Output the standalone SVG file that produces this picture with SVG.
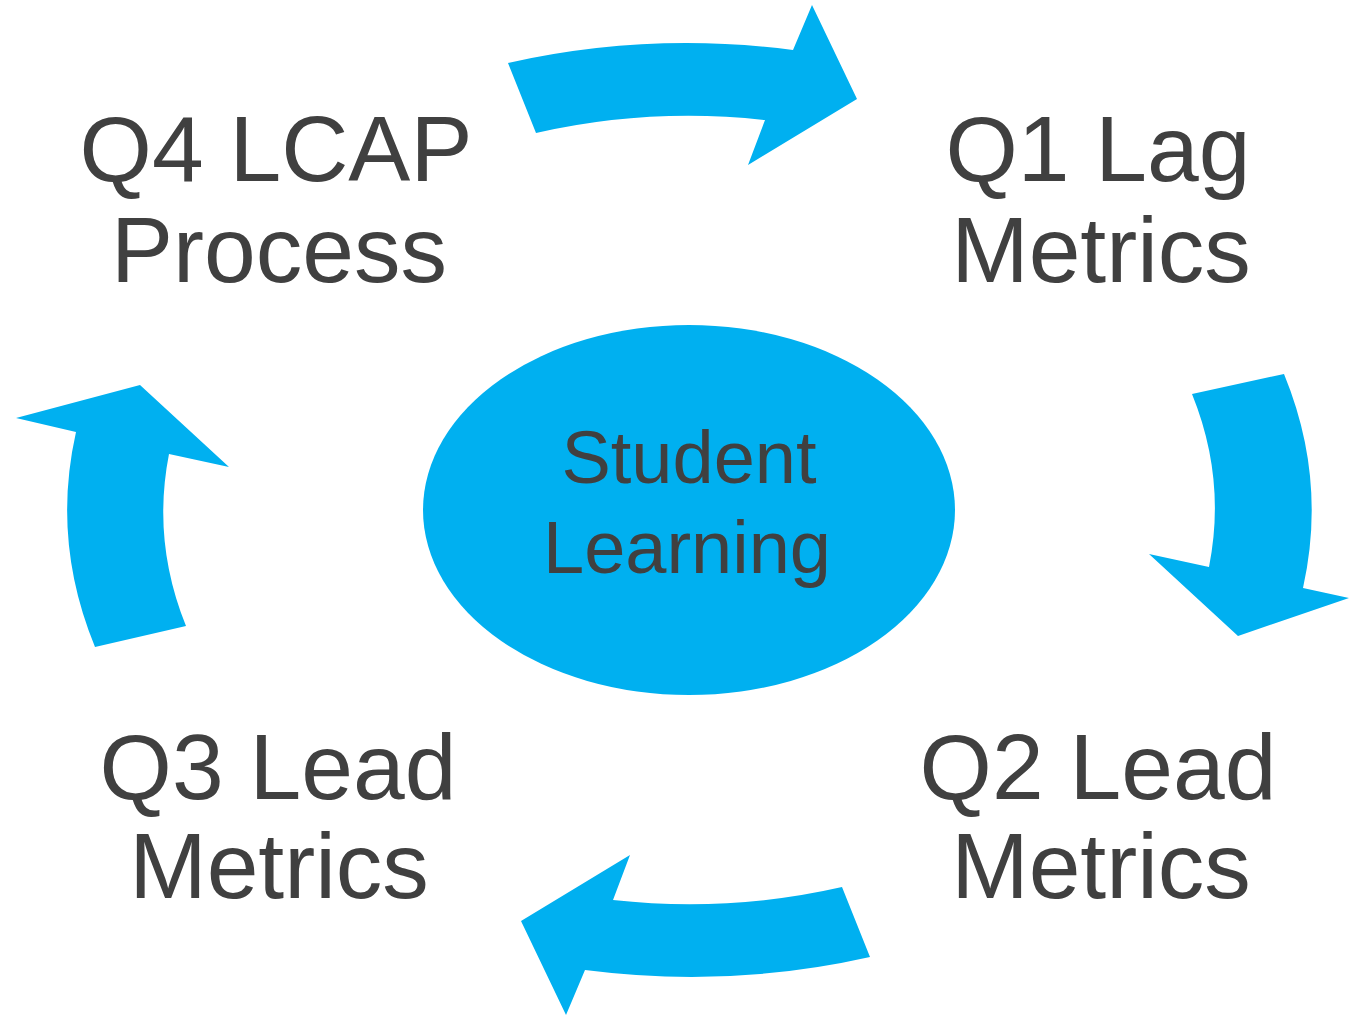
<svg xmlns="http://www.w3.org/2000/svg" width="1349" height="1015" viewBox="0 0 1349 1015">
<style>
.lbl{font-family:"Liberation Sans",Arial,sans-serif;font-size:93px;fill:#404040;text-anchor:middle}
.ctr{font-family:"Liberation Sans",Arial,sans-serif;font-size:74px;fill:#404040;text-anchor:middle}
.arr{fill:#00B0F0}
</style>
<rect width="1349" height="1015" fill="#ffffff"/>
<g id="connectors">
<path id="arrow-top" class="arr" d="M508,63 L536,133 A525 394 0 0 1 765,120 L748,165 L857,99 L812,5 L793,50 A622 466 0 0 0 508,63 Z"/>
<path id="arrow-right" class="arr" d="M1192,394 L1284,374 A622 466 0 0 1 1303,588 L1349,598 L1238,636 L1149,554 L1209,567 A525 394 0 0 0 1192,394 Z"/>
<path id="arrow-bottom" class="arr" d="M508,63 L536,133 A525 394 0 0 1 765,120 L748,165 L857,99 L812,5 L793,50 A622 466 0 0 0 508,63 Z" transform="rotate(180 689 510)"/>
<path id="arrow-left" class="arr" d="M186,626 L95,647 A622 466 0 0 1 76,432 L16,418 L140,385 L229,467 L169,454 A525 394 0 0 0 186,626 Z"/>
</g>
<g id="center">
<ellipse cx="689" cy="510" rx="266" ry="185" fill="#00B0F0"/>
<text class="ctr" x="689" y="483">Student</text>
<text class="ctr" x="687" y="573">Learning</text>
</g>
<g id="q4">
<text class="lbl" x="276" y="181">Q4 LCAP</text>
<text class="lbl" x="279" y="282">Process</text>
</g>
<g id="q1">
<text class="lbl" x="1098" y="181">Q1 Lag</text>
<text class="lbl" x="1101" y="282">Metrics</text>
</g>
<g id="q2">
<text class="lbl" x="1098" y="799">Q2 Lead</text>
<text class="lbl" x="1101" y="898">Metrics</text>
</g>
<g id="q3">
<text class="lbl" x="278" y="799">Q3 Lead</text>
<text class="lbl" x="279" y="898">Metrics</text>
</g>
</svg>
